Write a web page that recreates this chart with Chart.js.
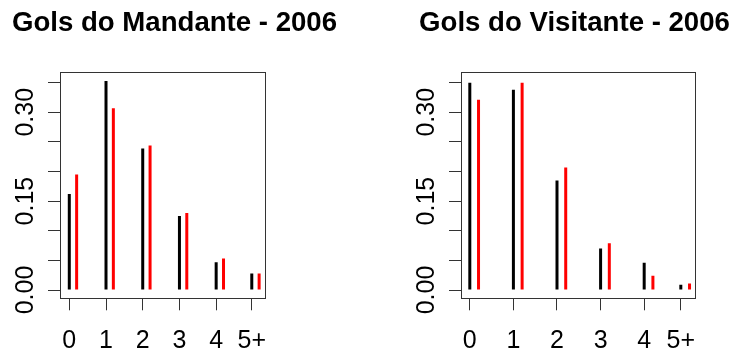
<!DOCTYPE html>
<html>
<head>
<meta charset="utf-8">
<script src="https://cdn.jsdelivr.net/npm/chart.js@4.4.1/dist/chart.umd.min.js"></script>
<style>
  html, body { margin: 0; padding: 0; background: #fff; }
  body { width: 736px; height: 352px; position: relative; overflow: hidden; }
  canvas { position: absolute; top: 0; }
</style>
</head>
<body>
<canvas id="mandante" width="349" height="352" style="left:0px"></canvas>
<canvas id="visitante" width="323" height="352" style="left:413px"></canvas>
<script>
// Goals scored per match (share of matches), Brasileirão 2006
const categories = ['0', '1', '2', '3', '4', '5+'];
const mandanteX = [0, 1, 2, 3, 4, 4.97];
const visitanteX = [0, 1, 2, 3, 4, 4.84];

// black: observed share, red: expected share
const mandanteObs = [0.162, 0.353, 0.239, 0.125, 0.047, 0.028];
const mandanteEsp = [0.195, 0.307, 0.244, 0.130, 0.053, 0.028];
const visitanteObs = [0.350, 0.338, 0.185, 0.070, 0.046, 0.009];
const visitanteEsp = [0.321, 0.350, 0.207, 0.079, 0.024, 0.011];

const yTickValues = [0, 0.05, 0.10, 0.15, 0.20, 0.25, 0.30, 0.35];
const yTickLabels = ['0.00', '', '', '0.15', '', '', '0.30', ''];

const FONT = '"Liberation Sans", Arial, Helvetica, sans-serif';
const INK = '#000';
const FRAME = '#333';
const RED_SHIFT = 0.2;

// plain box around the plotting region
const frame = {
  id: 'frame',
  afterDatasetsDraw(chart) {
    const a = chart.chartArea, c = chart.ctx;
    c.save();
    c.strokeStyle = FRAME;
    c.lineWidth = 1;
    const l = Math.round(a.left), t = Math.round(a.top);
    const r = Math.round(a.right), b = Math.round(a.bottom);
    c.strokeRect(l + 0.5, t + 0.5, r - l, b - t);
    c.restore();
  }
};

function panel(id, title, xs, obs, esp, xMin, xMax, leftW, rightW) {
  const spikes = { grouped: false, maxBarThickness: 3, borderWidth: 0 };
  new Chart(document.getElementById(id), {
    type: 'bar',
    data: {
      datasets: [
        Object.assign({ data: xs.map((x, i) => ({ x: x, y: obs[i] })), backgroundColor: '#000000' }, spikes),
        Object.assign({ data: xs.map((x, i) => ({ x: x + RED_SHIFT, y: esp[i] })), backgroundColor: '#ff0000' }, spikes)
      ]
    },
    options: {
      responsive: false,
      animation: false,
      devicePixelRatio: 1,
      layout: { padding: 0 },
      plugins: {
        legend: { display: false },
        tooltip: { enabled: false },
        title: {
          display: true,
          text: title,
          color: INK,
          font: { family: FONT, size: 27.6, weight: 'bold', lineHeight: 1.2 },
          padding: { top: 6.4, bottom: 32.48 }
        }
      },
      scales: {
        x: {
          type: 'linear',
          position: 'bottom',
          min: xMin,
          max: xMax,
          offset: false,
          afterBuildTicks: s => { s.ticks = xs.map(v => ({ value: v })); },
          afterFit: s => { s.height = 53.7; },
          ticks: {
            callback: (v, i) => categories[i],
            color: INK,
            font: { family: FONT, size: 25 },
            padding: 15.7,
            autoSkip: false,
            minRotation: 0,
            maxRotation: 0
          },
          grid: { offset: false, drawOnChartArea: false, drawTicks: true, tickLength: 12, color: FRAME },
          border: { display: false }
        },
        y: {
          type: 'linear',
          position: 'left',
          min: -0.014,
          max: 0.368,
          afterBuildTicks: s => { s.ticks = yTickValues.map(v => ({ value: v })); },
          afterFit: s => { s.width = leftW; },
          ticks: {
            callback: (v, i) => yTickLabels[i],
            color: INK,
            font: { family: FONT, size: 25 },
            padding: -2.8,
            minRotation: 90,
            maxRotation: 90,
            crossAlign: 'center',
            autoSkip: false
          },
          grid: { drawOnChartArea: false, drawTicks: true, tickLength: 12, color: FRAME },
          border: { display: false }
        },
        yR: {
          type: 'linear',
          position: 'right',
          display: true,
          afterFit: s => { s.width = rightW; },
          ticks: { display: false },
          grid: { display: false },
          border: { display: false }
        }
      }
    },
    plugins: [frame]
  });
}

panel('mandante', 'Gols do Mandante - 2006', mandanteX, mandanteObs, mandanteEsp, -0.253, 5.33, 60, 84);
panel('visitante', 'Gols do Visitante - 2006', visitanteX, visitanteObs, visitanteEsp, -0.202, 5.154, 48, 41.5);
</script>
</body>
</html>
